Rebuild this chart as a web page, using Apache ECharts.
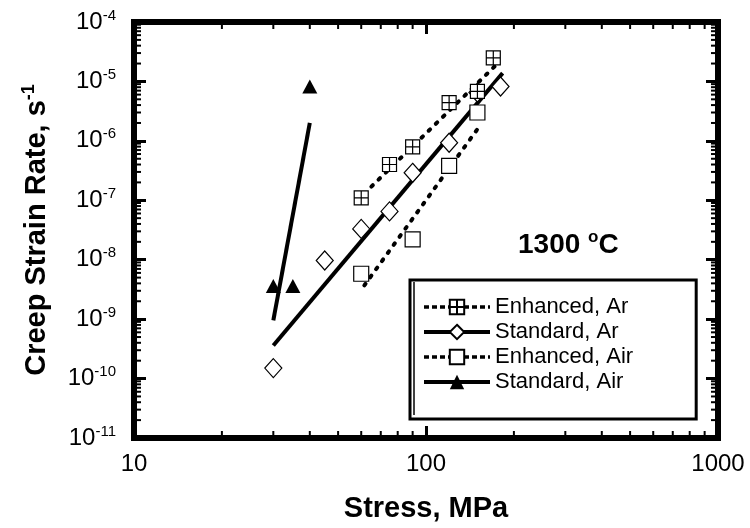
<!DOCTYPE html>
<html>
<head>
<meta charset="utf-8">
<script src="https://cdn.jsdelivr.net/npm/echarts@6/dist/echarts.min.js"></script>
<style>
  html, body { margin: 0; padding: 0; background: #fff; }
  #chart { width: 750px; height: 528px; }
</style>
</head>
<body>
<div id="chart"></div>
<script>
// measured creep rates (stress in MPa, rate in 1/s)
const enhArStress = [60, 75, 90, 120, 150, 170];
const enhArRate = [1.1e-7, 4.0e-7, 7.9e-7, 4.4e-6, 6.8e-6, 2.5e-5];
const stdArStress = [30, 45, 60, 75, 90, 120, 150, 180];
const stdArRate = [1.5e-10, 9.7e-9, 3.3e-8, 6.5e-8, 2.9e-7, 9.3e-7, 6.5e-6, 8.2e-6];
const enhAirStress = [60, 90, 120, 150];
const enhAirRate = [5.8e-9, 2.2e-8, 3.8e-7, 3.0e-6];
const stdAirStress = [30, 35, 40];
const stdAirRate = [3.6e-9, 3.6e-9, 8.2e-6];

// power-law fit lines, end points
const enhArFitStress = [65, 174];
const enhArFitRate = [1.7e-7, 1.9e-5];
const stdArFitStress = [30, 183];
const stdArFitRate = [3.6e-10, 1.38e-5];
const enhAirFitStress = [61.5, 152];
const enhAirFitRate = [3.7e-9, 1.72e-6];
const stdAirFitStress = [30, 40];
const stdAirFitRate = [9.5e-10, 2.0e-6];

// axis ranges and minor tick layout
const xRange = [10, 1000];
const yRange = [1e-11, 1e-4];
const xDecades = [10, 100];
const yDecades = [1e-11, 1e-10, 1e-9, 1e-8, 1e-7, 1e-6, 1e-5];
const mantissas = [2, 3, 4, 5, 6, 7, 8, 9];

const FONT = '"Liberation Sans", Arial, sans-serif';
const crossSquare = 'path://M0,0H10V10H0Z M5,0V10 M0,5H10';

const zip = (xs, ys) => xs.map((x, i) => [x, ys[i]]);

const minorX = [];
xDecades.forEach(d => mantissas.forEach(m => minorX.push([d * m, yRange[0]])));
const minorY = [];
yDecades.forEach(d => mantissas.forEach(m => minorY.push([xRange[0], d * m])));

const chart = echarts.init(document.getElementById('chart'));

// minor log ticks on all four sides
const tickSeries = (data, vertical) => ({
  type: 'custom',
  silent: true,
  clip: false,
  z: 5,
  data: data,
  renderItem: (params, api) => {
    const len = 7;
    const style = { stroke: '#000', lineWidth: 2 };
    if (vertical) {
      const v = api.value(0);
      const b = api.coord([v, yRange[0]]);
      const t = api.coord([v, yRange[1]]);
      return { type: 'group', children: [
        { type: 'line', shape: { x1: b[0], y1: b[1], x2: b[0], y2: b[1] - len }, style },
        { type: 'line', shape: { x1: t[0], y1: t[1], x2: t[0], y2: t[1] + len }, style }
      ] };
    }
    const v = api.value(1);
    const l = api.coord([xRange[0], v]);
    const r = api.coord([xRange[1], v]);
    return { type: 'group', children: [
      { type: 'line', shape: { x1: l[0], y1: l[1], x2: l[0] + len, y2: l[1] }, style },
      { type: 'line', shape: { x1: r[0], y1: r[1], x2: r[0] - len, y2: r[1] }, style }
    ] };
  }
});

const fitLine = (name, xs, ys, dashed) => ({
  name: name,
  type: 'line',
  data: zip(xs, ys),
  symbol: 'none',
  silent: true,
  z: 3,
  lineStyle: dashed
    ? { color: '#000', width: 4, type: [2, 8], cap: 'round' }
    : { color: '#000', width: 4 }
});

const markers = (name, xs, ys, symbol, size, filled) => ({
  name: name,
  type: 'line',
  data: zip(xs, ys),
  symbol: symbol,
  symbolSize: size,
  showSymbol: true,
  showAllSymbol: true,
  silent: true,
  z: 4,
  lineStyle: { opacity: 0 },
  itemStyle: filled
    ? { color: '#000', borderWidth: 0 }
    : { color: '#fff', borderColor: '#000', borderWidth: 1.2 }
});

const dashLegend = { type: [5, 3], width: 3.5, color: '#000', opacity: 1 };
const solidLegend = { type: 'solid', width: 4, color: '#000', opacity: 1 };
const majorTick = { show: true, inside: true, length: 12, lineStyle: { color: '#000', width: 3 } };

const option = {
  animation: false,
  backgroundColor: '#fff',
  grid: {
    left: 134, right: 32, top: 22, bottom: 88,
    show: true, borderColor: '#000', borderWidth: 6, backgroundColor: 'transparent'
  },
  xAxis: [{
    type: 'log', logBase: 10, min: xRange[0], max: xRange[1],
    name: 'Stress, MPa', nameLocation: 'middle', nameGap: 56,
    nameTextStyle: { fontSize: 29, fontWeight: 'bold', color: '#000', fontFamily: FONT },
    axisLine: { show: false },
    axisTick: majorTick,
    axisLabel: { fontSize: 24, color: '#000', fontFamily: FONT, margin: 14, formatter: v => String(v) },
    splitLine: { show: false }
  }, {
    type: 'log', logBase: 10, min: xRange[0], max: xRange[1], position: 'top',
    axisLine: { show: false },
    axisTick: majorTick,
    axisLabel: { show: false },
    splitLine: { show: false }
  }],
  yAxis: [{
    type: 'log', logBase: 10, min: yRange[0], max: yRange[1],
    name: '{t|Creep Strain Rate, s}{s|-1}', nameLocation: 'middle', nameGap: 80,
    nameTextStyle: {
      color: '#000', fontFamily: FONT,
      rich: {
        t: { fontSize: 29, fontWeight: 'bold', fontFamily: FONT, color: '#000', lineHeight: 34 },
        s: { fontSize: 18, fontWeight: 'bold', fontFamily: FONT, color: '#000', verticalAlign: 'top', lineHeight: 18 }
      }
    },
    axisLine: { show: false },
    axisTick: majorTick,
    axisLabel: {
      margin: 18,
      formatter: v => '{b|10}{s|' + Math.round(Math.log10(v)) + '}',
      rich: {
        b: { fontSize: 24, fontFamily: FONT, color: '#000', lineHeight: 28 },
        s: { fontSize: 15, fontFamily: FONT, color: '#000', verticalAlign: 'top', lineHeight: 15 }
      }
    },
    splitLine: { show: false }
  }, {
    type: 'log', logBase: 10, min: yRange[0], max: yRange[1], position: 'right',
    axisLine: { show: false },
    axisTick: majorTick,
    axisLabel: { show: false },
    splitLine: { show: false }
  }],
  legend: {
    orient: 'vertical', left: 410, top: 280,
    padding: [16, 63, 26, 12], itemGap: 3, itemWidth: 66, itemHeight: 18,
    borderColor: '#000', borderWidth: 3, backgroundColor: '#fff',
    selectedMode: false,
    textStyle: { fontSize: 22, color: '#000', fontFamily: FONT, lineHeight: 22 },
    data: [
      { name: 'Enhanced, Ar', lineStyle: dashLegend },
      { name: 'Standard, Ar', lineStyle: solidLegend },
      { name: 'Enhanced, Air', lineStyle: dashLegend },
      { name: 'Standard, Air', lineStyle: solidLegend }
    ]
  },
  graphic: [{
    type: 'text', left: 518, top: 229, z: 10,
    style: {
      text: '{t|1300 }{s|o}{t|C}',
      rich: {
        t: { fontSize: 28, fontWeight: 'bold', fontFamily: FONT, fill: '#000', lineHeight: 32 },
        s: { fontSize: 17, fontWeight: 'bold', fontFamily: FONT, fill: '#000', verticalAlign: 'top', lineHeight: 17 }
      }
    }
  }, {
    // inner rule of the legend's double left border
    type: 'line', z: 200,
    shape: { x1: 414, y1: 282, x2: 414, y2: 415 },
    style: { stroke: '#000', lineWidth: 1.5 }
  }],
  series: [
    tickSeries(minorX, true),
    tickSeries(minorY, false),
    fitLine('Enhanced, Ar fit', enhArFitStress, enhArFitRate, true),
    fitLine('Standard, Ar fit', stdArFitStress, stdArFitRate, false),
    fitLine('Enhanced, Air fit', enhAirFitStress, enhAirFitRate, true),
    fitLine('Standard, Air fit', stdAirFitStress, stdAirFitRate, false),
    markers('Standard, Ar', stdArStress, stdArRate, 'diamond', [17, 19], false),
    markers('Enhanced, Air', enhAirStress, enhAirRate, 'rect', 15, false),
    markers('Enhanced, Ar', enhArStress, enhArRate, crossSquare, 14, false),
    markers('Standard, Air', stdAirStress, stdAirRate, 'triangle', [15, 14], true)
  ]
};

chart.setOption(option);
</script>
</body>
</html>
